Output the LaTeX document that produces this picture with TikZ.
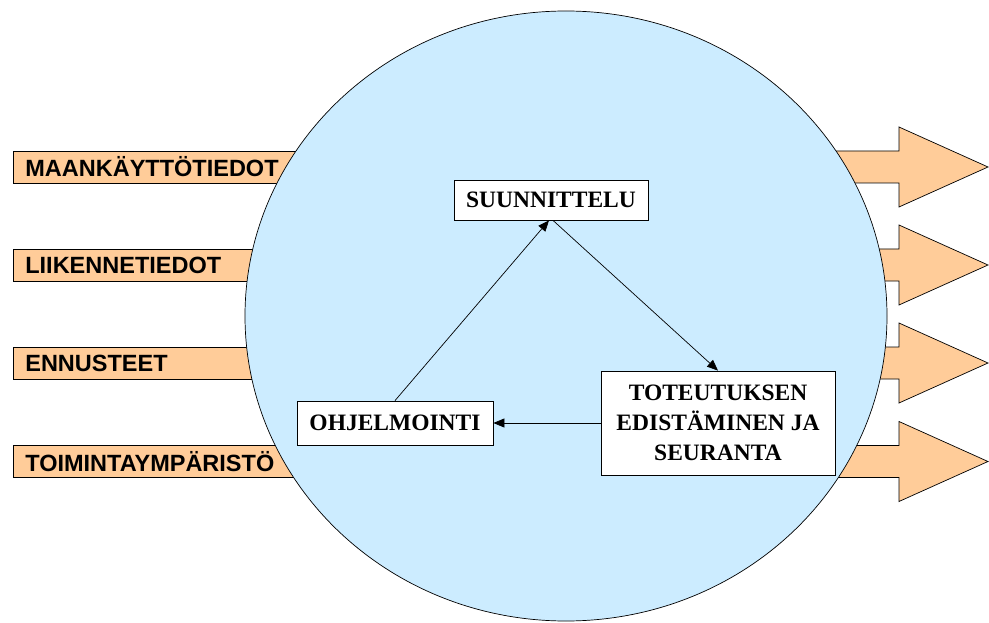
\documentclass[tikz,border=0pt]{standalone}
\usepackage{fontspec}
\setmainfont{Liberation Serif}
\newfontfamily\inputfont{Liberation Sans}
\usetikzlibrary{arrows.meta}
\definecolor{orangefill}{HTML}{FFCC99}
\definecolor{circlefill}{HTML}{CCECFF}
\tikzset{
  inbox/.style={draw=black, line width=0.7pt, fill=orangefill, anchor=west,
    minimum height=32pt, text width=283pt, inner xsep=12pt, inner ysep=0pt, align=left,
    font=\inputfont\bfseries\fontsize{23.5}{28}\selectfont},
  outarrow/.style={draw=black, line width=0.7pt, fill=orangefill},
  stepbox/.style={draw=black, line width=0.8pt, fill=white, align=center,
    font=\bfseries\fontsize{23.5}{30}\selectfont, inner sep=0pt},
  flow/.style={line width=0.7pt, -{Triangle[length=11pt,width=9pt]}}
}
\begin{document}
\begin{tikzpicture}[x=1pt,y=-1pt]
\useasboundingbox (0,0) rectangle (989,623);
% incoming data bars
\node[inbox] (maa) at (13,167) {MAANKÄYTTÖTIEDOT};
\node[inbox] (lii) at (13,265) {LIIKENNETIEDOT};
\node[inbox] (enn) at (13,363) {ENNUSTEET};
\node[inbox] (toi) at (13,461.5) {TOIMINTAYMPÄRISTÖ};
% outgoing block arrows
\foreach \yc in {167,265,363,461.5}{
  \draw[outarrow] (820,\yc-16) -- (899,\yc-16) -- (899,\yc-40) -- (988,\yc)
    -- (899,\yc+40) -- (899,\yc+16) -- (820,\yc+16) -- cycle;
}
% planning process area
\draw[line width=0.7pt, fill=circlefill] (566,316) ellipse [x radius=321, y radius=305];
% process steps
\node[stepbox, minimum width=194pt, minimum height=40pt] (suun) at (551,200) {SUUNNITTELU};
\node[stepbox, minimum width=196pt, minimum height=44pt] (ohj) at (395,423) {OHJELMOINTI};
\node[stepbox, minimum width=234pt, minimum height=104pt] (tot) at (718,423)
  {TOTEUTUKSEN\\EDISTÄMINEN JA\\SEURANTA};
% cycle connectors
\draw[flow] (ohj.north) -- ([xshift=-2pt]suun.south);
\draw[flow] ([xshift=2pt]suun.south) -- (tot.north);
\draw[flow] (tot.west) -- (ohj.east);
\end{tikzpicture}
\end{document}
